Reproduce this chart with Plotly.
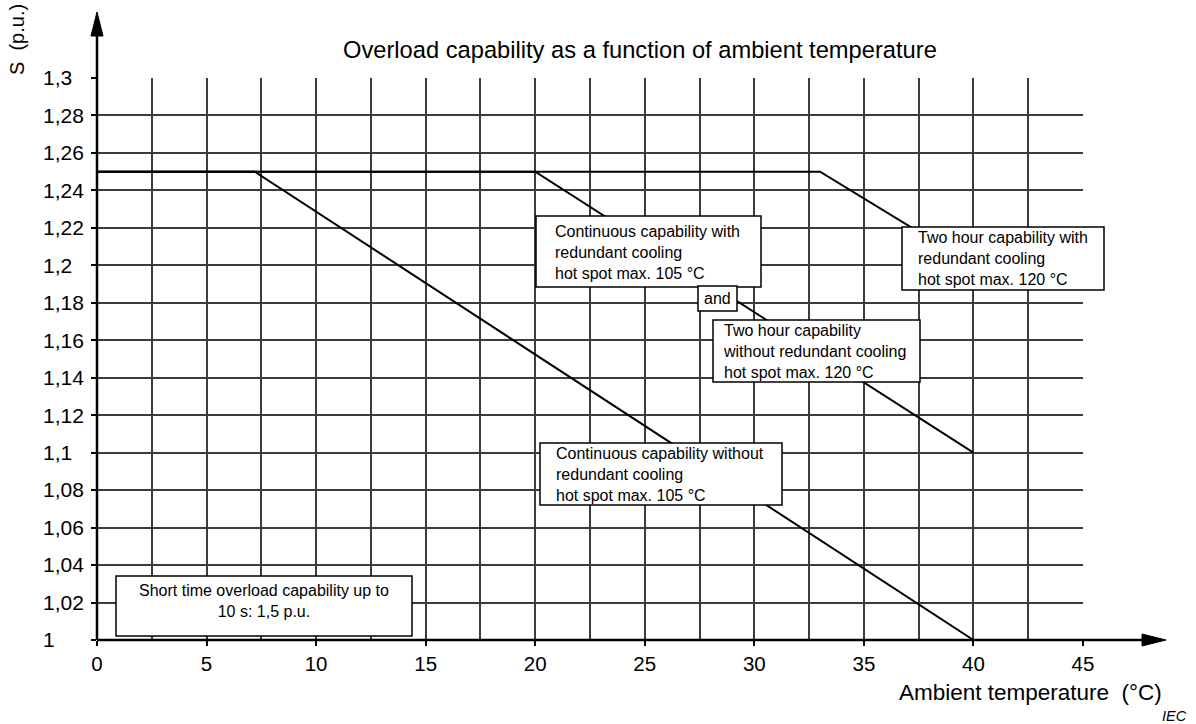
import plotly.graph_objects as go

# ---- data ----
temp_cont_no_red = [0, 7.2, 40]
s_cont_no_red = [1.25, 1.25, 1.0]
temp_cont_red = [0, 20, 40]
s_cont_red = [1.25, 1.25, 1.1]
temp_2h_red = [0, 33, 40]
s_2h_red = [1.25, 1.25, 1.2]

x_tick_vals = [0, 5, 10, 15, 20, 25, 30, 35, 40, 45]
x_tick_text = ["0", "5", "10", "15", "20", "25", "30", "35", "40", "45"]
y_tick_vals = [1.0, 1.02, 1.04, 1.06, 1.08, 1.1, 1.12, 1.14, 1.16, 1.18, 1.2,
               1.22, 1.24, 1.26, 1.28, 1.3]
y_tick_text = ["1", "1,02", "1,04", "1,06", "1,08", "1,1", "1,12", "1,14", "1,16",
               "1,18", "1,2", "1,22", "1,24", "1,26", "1,28", "1,3"]

FONT = "Liberation Sans, Arial, sans-serif"
W, H = 1196, 724
L, R, T, B = 97, 1083, 78, 640  # plot area in pixels (L = left of x domain)
ML = 0  # left margin; paper x=0 at pixel 0


def px(xp):
    return (xp - ML) / (R - ML)


def py(yp):
    return (B - yp) / (B - T)


fig = go.Figure()
for xs, ys in [(temp_cont_no_red, s_cont_no_red), (temp_cont_red, s_cont_red),
               (temp_2h_red, s_2h_red)]:
    fig.add_trace(go.Scatter(x=xs, y=ys, mode="lines",
                             line=dict(color="black", width=2),
                             showlegend=False, hoverinfo="skip"))
# helper (invisible) trace carrying the left-aligned tick-label axis
fig.add_trace(go.Scatter(x=[temp_cont_red[0]], y=[s_cont_red[0]], yaxis="y2",
                         mode="markers", marker=dict(opacity=0), showlegend=False,
                         hoverinfo="skip"))

grid_col = "#3c3c3c"
fig.update_layout(
    xaxis=dict(domain=[px(L), 1], range=[0, 45], tickvals=x_tick_vals,
               ticktext=x_tick_text, showgrid=True, gridcolor=grid_col, gridwidth=1.6,
               minor=dict(dtick=2.5, tick0=0, showgrid=True, gridcolor=grid_col,
                          gridwidth=1.6, ticks=""),
               ticks="outside", ticklen=5, tickcolor="black", tickwidth=1.5,
               tickfont=dict(family=FONT, size=20.5, color="black"),
               zeroline=False, showline=False, fixedrange=True, automargin=False),
    yaxis=dict(range=[1.0, 1.3], tickvals=y_tick_vals, ticktext=y_tick_text,
               showgrid=True, gridcolor=grid_col, gridwidth=1.6,
               ticks="outside", ticklen=5, tickcolor="black", tickwidth=1.5,
               showticklabels=False, anchor="x",
               zeroline=False, showline=False, fixedrange=True, automargin=False),
    yaxis2=dict(overlaying="y", side="right", anchor="free", position=px(42),
                range=[1.0, 1.3], tickvals=y_tick_vals, ticktext=y_tick_text,
                showgrid=False, ticks="", showline=False, zeroline=False,
                tickfont=dict(family=FONT, size=21, color="black"),
                fixedrange=True, automargin=False),
)

shapes = []
# axis lines with arrow heads
shapes.append(dict(type="line", xref="paper", yref="paper", x0=px(L), y0=0,
                   x1=px(1150), y1=0, line=dict(color="black", width=2.5)))
shapes.append(dict(type="line", xref="paper", yref="paper", x0=px(L), y0=0,
                   x1=px(L), y1=py(30), line=dict(color="black", width=2.5)))
shapes.append(dict(type="path", xref="paper", yref="paper",
                   path=f"M {px(1142)} {py(634)} L {px(1166)} {py(640)} L {px(1142)} {py(646)} Z",
                   fillcolor="black", line=dict(color="black", width=1)))
shapes.append(dict(type="path", xref="paper", yref="paper",
                   path=f"M {px(91)} {py(36)} L {px(97)} {py(12)} L {px(103)} {py(36)} Z",
                   fillcolor="black", line=dict(color="black", width=1)))

# label boxes (pixel extents)
boxes = [
    (536, 216, 761, 287),
    (698, 286, 737, 311),
    (713, 320, 920, 382),
    (902, 227, 1104, 290),
    (540, 443, 782, 505),
    (116, 576, 412, 636),
]
for x0, y0, x1, y1 in boxes:
    shapes.append(dict(type="rect", xref="paper", yref="paper",
                       x0=px(x0), x1=px(x1), y0=py(y1), y1=py(y0),
                       fillcolor="white", line=dict(color="black", width=1.5),
                       layer="above"))

labels = [
    ("Continuous capability with<br>redundant cooling<br>hot spot max. 105 °C", 553, 252, "left"),
    ("and", 717.5, 298.5, "center"),
    ("Two hour capability<br>without redundant cooling<br>hot spot max. 120 °C", 721, 351, "left"),
    ("Two hour capability with<br>redundant cooling<br>hot spot max. 120 °C", 916, 258.5, "left"),
    ("Continuous capability without<br>redundant cooling<br>hot spot max. 105 °C", 554, 474, "left"),
    ("Short time overload capability up to<br>10 s: 1,5 p.u.", 264, 601, "center"),
]
annotations = []
for txt, x, y, al in labels:
    annotations.append(dict(text=txt, xref="paper", yref="paper", x=px(x), y=py(y),
                            xanchor="left" if al == "left" else "center",
                            yanchor="middle", align=al, showarrow=False,
                            font=dict(family=FONT, size=16, color="black")))

annotations += [
    dict(text="Overload capability as a function of ambient temperature",
         xref="paper", yref="paper", x=px(640), y=py(50), xanchor="center",
         yanchor="middle", showarrow=False,
         font=dict(family=FONT, size=23.7, color="black")),
    dict(text="S  (p.u.)", xref="paper", yref="paper", x=px(17), y=py(40),
         xanchor="center", yanchor="middle", textangle=-90, showarrow=False,
         font=dict(family=FONT, size=20, color="black")),
    dict(text="Ambient temperature  (°C)", xref="paper", yref="paper", x=px(1164),
         y=py(692), xanchor="right", yanchor="middle", showarrow=False,
         font=dict(family=FONT, size=22.5, color="black")),
    dict(text="<i>IEC</i>", xref="paper", yref="paper", x=px(1189), y=py(716),
         xanchor="right", yanchor="middle", showarrow=False,
         font=dict(family=FONT, size=14.5, color="black")),
]

fig.update_layout(width=W, height=H, margin=dict(l=ML, r=W - R, t=T, b=H - B),
                  paper_bgcolor="white", plot_bgcolor="white",
                  shapes=shapes, annotations=annotations, showlegend=False)

fig.write_html("out.html", config={"displayModeBar": False},
               post_script="document.body.style.margin='0px';document.body.style.padding='0px';")
